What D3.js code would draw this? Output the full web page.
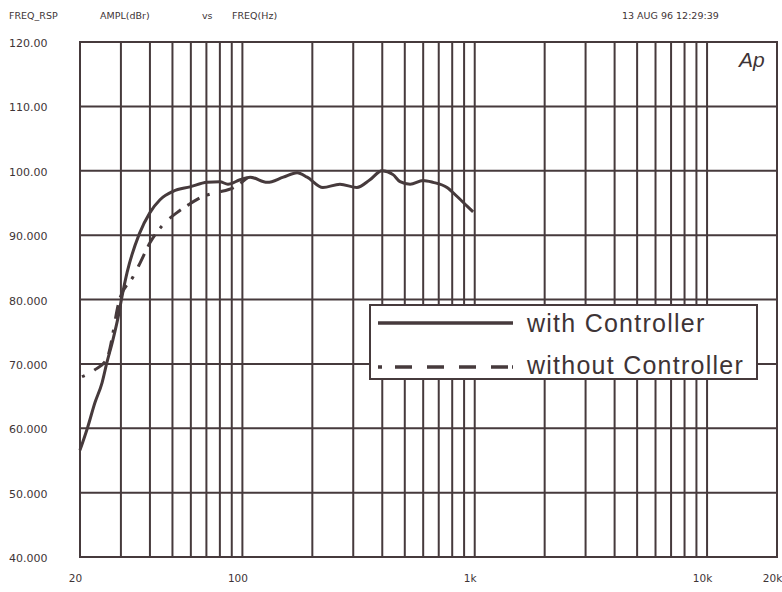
<!DOCTYPE html>
<html>
  <head>
    <meta charset="utf-8">
    <title>FREQ_RSP</title>
    <script src="https://d3js.org/d3.v7.min.js"></script>
    <style>
      body { margin: 0; background: #fff; }
      text { font-family: "DejaVu Sans", sans-serif; fill: #3e3436; }
    </style>
  </head>
  <body>
    <svg id="grafico"></svg>
    <script>
      // datos (Hz, dBr)
      var frecCon = [20, 21.6, 23.2, 24.9, 26.1, 27.7, 29.2, 30.3, 31.9, 36, 40, 44.2, 50.3, 59.5, 70.4, 80, 86.7, 97.7, 108, 128, 150, 172, 190, 222, 263, 311, 354, 399, 445, 477, 527, 599, 662, 760, 840, 927, 984];
      var dbCon   = [56.6, 60.2, 64.0, 67.1, 70.2, 73.7, 77.3, 80.4, 84.2, 90.2, 93.5, 95.5, 96.8, 97.5, 98.2, 98.3, 97.9, 98.6, 99.0, 98.2, 99.0, 99.7, 99.0, 97.4, 97.9, 97.4, 98.6, 100, 99.4, 98.3, 97.9, 98.5, 98.2, 97.4, 96.0, 94.5, 93.6];
      var frecSin = [20.4, 23.2, 26.1, 29.7, 33.8, 36.3, 40, 45.5, 52.3, 58.5, 67.5, 76.7, 91.9, 105];
      var dbSin   = [68.0, 69.1, 70.8, 80.2, 83.5, 85.7, 88.8, 91.6, 93.5, 94.7, 96.0, 96.6, 97.4, 98.9];

      var etiquetasY = [120, 110, 100, 90, 80, 70, 60, 50, 40];
      var textoY = ["120.00", "110.00", "100.00", "90.000", "80.000", "70.000", "60.000", "50.000", "40.000"];
      var marcasX = [20, 100, 1000, 10000, 20000];
      var textoX = ["20", "100", "1k", "10k", "20k"];
      var lineasX = [30, 40, 50, 60, 70, 80, 90, 100, 200, 300, 400, 500, 600, 700, 800, 900, 1000,
                     2000, 3000, 4000, 5000, 6000, 7000, 8000, 9000, 10000];
      var lineasY = [50, 60, 70, 80, 90, 100, 110];
      var series = ["with Controller", "without Controller"];

      var ancho = 782, alto = 592;
      var color = "#463a3c";
      var escalaX = d3.scaleLog().domain([20, 20000]).range([80, 777]);
      var escalaY = d3.scaleLinear().domain([40, 120]).range([557, 42]);

      var svg = d3.select("#grafico").attr("width", ancho).attr("height", alto);
      svg.append("rect").attr("width", ancho).attr("height", alto).attr("fill", "#fff");

      // encabezado
      var cab = svg.append("g").style("font-size", "9.5px");
      cab.append("text").attr("x", 9).attr("y", 19).text("FREQ_RSP");
      cab.append("text").attr("x", 100).attr("y", 19).text("AMPL(dBr)");
      cab.append("text").attr("x", 202).attr("y", 19).text("vs");
      cab.append("text").attr("x", 232).attr("y", 19).text("FREQ(Hz)");
      cab.append("text").attr("x", 622).attr("y", 19).text("13 AUG 96  12:29:39");

      // rejilla
      var rejilla = svg.append("g").attr("stroke", color).attr("stroke-width", 2);
      rejilla.selectAll(".vx").data(lineasX).enter().append("line")
        .attr("x1", function(d) { return escalaX(d); }).attr("x2", function(d) { return escalaX(d); })
        .attr("y1", escalaY(120)).attr("y2", escalaY(40));
      rejilla.selectAll(".hy").data(lineasY).enter().append("line")
        .attr("y1", function(d) { return escalaY(d); }).attr("y2", function(d) { return escalaY(d); })
        .attr("x1", escalaX(20)).attr("x2", escalaX(20000));
      rejilla.append("rect")
        .attr("x", escalaX(20)).attr("y", escalaY(120))
        .attr("width", escalaX(20000) - escalaX(20)).attr("height", escalaY(40) - escalaY(120))
        .attr("fill", "none");

      // ejes
      var ejeY = d3.axisLeft(escalaY).tickValues(etiquetasY).tickSize(0)
        .tickFormat(function(d, i) { return textoY[i]; });
      var gy = svg.append("g").attr("transform", "translate(0,1)").call(ejeY);
      gy.select(".domain").remove();
      gy.selectAll("text").attr("x", 9).attr("text-anchor", "start")
        .style("font-size", "11px").style("font-family", "DejaVu Sans, sans-serif").attr("fill", "#3e3436");

      var ejeX = d3.axisBottom(escalaX).tickValues(marcasX).tickSize(0)
        .tickFormat(function(d, i) { return textoX[i]; });
      var gx = svg.append("g").attr("transform", "translate(-5,572)").call(ejeX);
      gx.select(".domain").remove();
      gx.selectAll("text").style("font-size", "10.5px").style("font-family", "DejaVu Sans, sans-serif").attr("fill", "#3e3436");

      // logo
      svg.append("text").attr("x", 739).attr("y", 67)
        .style("font-size", "21px").style("font-style", "italic")
        .style("font-family", "Liberation Sans, Arial, sans-serif").text("Ap");

      // curvas
      var linea = d3.line()
        .x(function(d) { return escalaX(d[0]); })
        .y(function(d) { return escalaY(d[1]); })
        .curve(d3.curveMonotoneX);
      svg.append("path").datum(d3.zip(frecSin, dbSin)).attr("d", linea)
        .attr("fill", "none").attr("stroke", color).attr("stroke-width", 3)
        .attr("stroke-dasharray", "3,11,14,8,14,8");
      svg.append("path").datum(d3.zip(frecCon, dbCon)).attr("d", linea)
        .attr("fill", "none").attr("stroke", color).attr("stroke-width", 3);

      // leyenda
      var ley = svg.append("g");
      ley.append("rect").attr("x", 370).attr("y", 305).attr("width", 387).attr("height", 74)
        .attr("fill", "#fff").attr("stroke", color).attr("stroke-width", 2);
      ley.append("line").attr("x1", 378).attr("x2", 513).attr("y1", 323).attr("y2", 323)
        .attr("stroke", color).attr("stroke-width", 3.5);
      ley.append("line").attr("x1", 378).attr("x2", 513).attr("y1", 367).attr("y2", 367)
        .attr("stroke", color).attr("stroke-width", 3.5).attr("stroke-dasharray", "4,13,17,15,17,15,17,15,17");
      ley.selectAll(".lt").data(series).enter().append("text")
        .attr("x", 527).attr("y", function(d, i) { return 332 + i * 42; })
        .style("font-size", "25px").style("letter-spacing", "1.25px")
        .style("font-family", "Liberation Sans, Arial, sans-serif")
        .text(function(d) { return d; });
    </script>
  </body>
</html>
